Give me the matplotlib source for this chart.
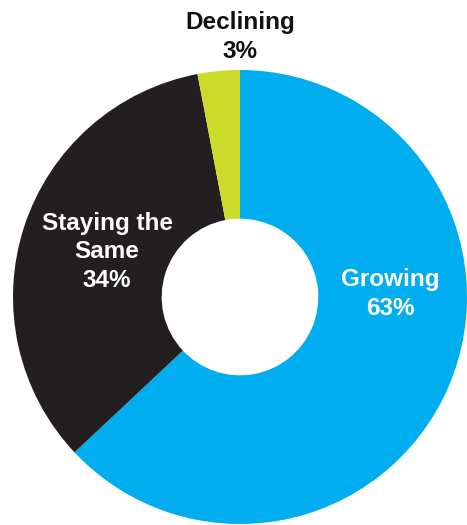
import matplotlib.pyplot as plt

categories = ["Growing", "Staying the\nSame", "Declining"]
shares = [63, 34, 3]
colors = ["#00AEEF", "#231F20", "#CCDA2A"]

W, H = 467, 525
fig = plt.figure(figsize=(W / 100, H / 100), dpi=100)
ax = fig.add_axes([0, 0, 1, 1])

# donut, clockwise from the top
cx, cy, r = 240, H - 297, 227
ax.pie(shares, colors=colors, startangle=90, counterclock=False,
       center=(cx, cy), radius=r,
       wedgeprops=dict(width=r * 0.655, linewidth=0))

ax.set_xlim(0, W)
ax.set_ylim(0, H)
ax.set_aspect("equal")
ax.axis("off")

font = dict(family="Liberation Sans", fontweight="bold", fontsize=17.5,
            ha="center", va="center", linespacing=1.28)

# label spots picked by eye
ax.text(390, H - 294, f"{categories[0]}\n{shares[0]}%", color="white", **font)
ax.text(107, H - 252, f"{categories[1]}\n{shares[1]}%", color="white", **font)
ax.text(240, H - 37, f"{categories[2]}\n{shares[2]}%", color="#111111", **font)

fig.savefig("out.png", dpi=100)
